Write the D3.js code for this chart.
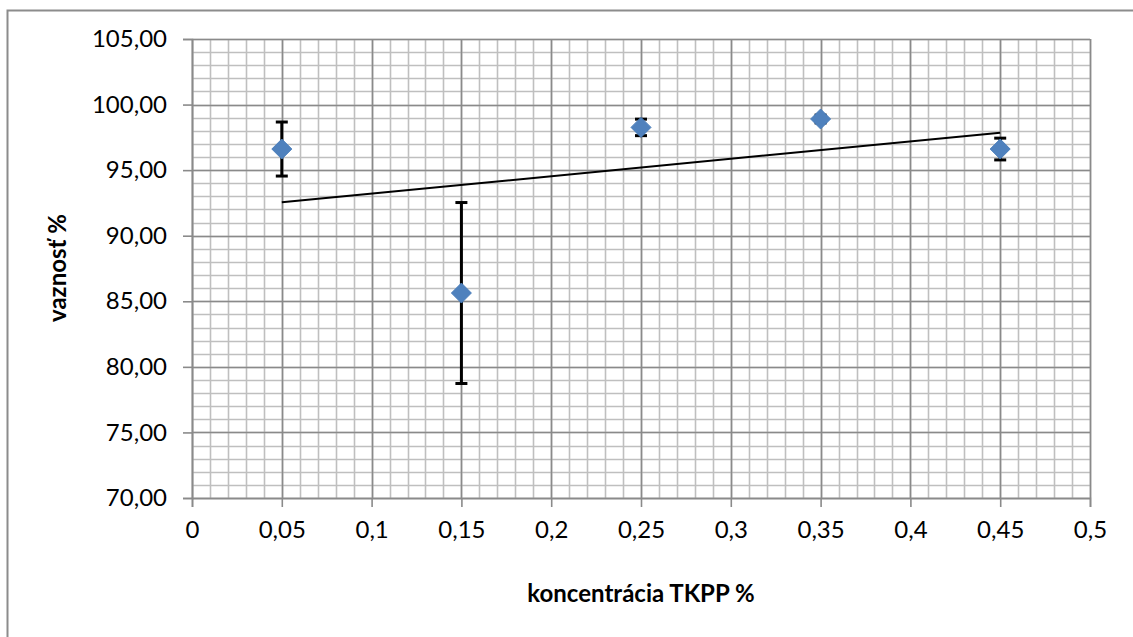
<!DOCTYPE html>
<html>
<head>
<meta charset="utf-8">
<script src="https://cdn.jsdelivr.net/npm/d3@7/dist/d3.min.js"></script>
<style>
  html, body { margin: 0; padding: 0; background: #fff; }
  svg { display: block; }
  text { font-family: Lato, "Open Sans", sans-serif; fill: #000; }
</style>
</head>
<body>
<svg id="chart" width="1133" height="637"></svg>
<script>
// Concentration of TKPP (%) and measured binding (vaznosť, %) with std. deviation
const concentration = [0.05, 0.15, 0.25, 0.35, 0.45];
const binding = [96.61, 85.63, 98.26, 98.90, 96.61];
const deviation = [2.06, 6.90, 0.63, 0.30, 0.83];

const xTicks = [0, 0.05, 0.1, 0.15, 0.2, 0.25, 0.3, 0.35, 0.4, 0.45, 0.5];
const yTicks = [70, 75, 80, 85, 90, 95, 100, 105];

const xTitle = "koncentrácia TKPP %";
const yTitle = "vaznosť %";

const W = 1133, H = 637;
const plot = { left: 192, top: 39, right: 1090, bottom: 498 };

const svg = d3.select("#chart");

// outer frame of the chart object (runs past the right and bottom edges)
svg.append("rect")
  .attr("x", 7.5).attr("y", 10.5)
  .attr("width", W + 20).attr("height", H + 20)
  .attr("fill", "none").attr("stroke", "#8c8c8c").attr("stroke-width", 2);

const x = d3.scaleLinear().domain([0, 0.5]).range([plot.left, plot.right]);
const y = d3.scaleLinear().domain([70, 105]).range([plot.bottom, plot.top]);

const fmtX = d => String(+d.toFixed(2)).replace(".", ",");
const fmtY = d => d.toFixed(2).replace(".", ",");

// minor grid
const g = svg.append("g");
g.selectAll("line.minx").data(d3.range(0, 51).map(i => i / 100))
  .join("line")
  .attr("x1", d => Math.round(x(d)) + 0.5).attr("x2", d => Math.round(x(d)) + 0.5)
  .attr("y1", plot.top).attr("y2", plot.bottom)
  .attr("stroke", "#bfbfbf").attr("stroke-width", 1.6);
g.selectAll("line.miny").data(d3.range(70, 106))
  .join("line")
  .attr("x1", plot.left).attr("x2", plot.right)
  .attr("y1", d => Math.round(y(d)) + 0.5).attr("y2", d => Math.round(y(d)) + 0.5)
  .attr("stroke", "#bfbfbf").attr("stroke-width", 1.6);

// major grid
g.selectAll("line.majx").data(xTicks)
  .join("line")
  .attr("x1", d => Math.round(x(d)) + 0.5).attr("x2", d => Math.round(x(d)) + 0.5)
  .attr("y1", plot.top).attr("y2", plot.bottom)
  .attr("stroke", "#8a8a8a").attr("stroke-width", 1.6);
g.selectAll("line.majy").data(yTicks)
  .join("line")
  .attr("x1", plot.left).attr("x2", plot.right)
  .attr("y1", d => Math.round(y(d)) + 0.5).attr("y2", d => Math.round(y(d)) + 0.5)
  .attr("stroke", "#8a8a8a").attr("stroke-width", 1.6);

// axes
const xAxis = svg.append("g")
  .attr("transform", `translate(0,${plot.bottom})`)
  .call(d3.axisBottom(x).tickValues(xTicks).tickFormat(fmtX).tickSize(9).tickPadding(14));
const yAxis = svg.append("g")
  .attr("transform", `translate(${plot.left},0)`)
  .call(d3.axisLeft(y).tickValues(yTicks).tickFormat(fmtY).tickSize(9).tickPadding(16));
[xAxis, yAxis].forEach(a => {
  a.select(".domain").attr("stroke", "#8a8a8a").attr("stroke-width", 1.6);
  a.selectAll(".tick line").attr("stroke", "#8a8a8a").attr("stroke-width", 1.6);
  a.selectAll(".tick text").attr("font-size", 24).attr("font-family", "Lato, sans-serif").attr("fill", "#000");
});

// linear trend line (least squares) across the measured range
const mx = d3.mean(concentration), my = d3.mean(binding);
const slope = d3.sum(concentration, (c, i) => (c - mx) * (binding[i] - my)) /
              d3.sum(concentration, c => (c - mx) ** 2);
const icpt = my - slope * mx;
const xExt = d3.extent(concentration);
svg.append("line")
  .attr("x1", x(xExt[0])).attr("y1", y(icpt + slope * xExt[0]))
  .attr("x2", x(xExt[1])).attr("y2", y(icpt + slope * xExt[1]))
  .attr("stroke", "#000").attr("stroke-width", 2);

// error bars
const pts = concentration.map((c, i) => ({ c, v: binding[i], e: deviation[i] }));
const eb = svg.append("g").attr("stroke", "#000").attr("stroke-width", 3);
pts.forEach(p => {
  const cx = x(p.c);
  eb.append("line").attr("x1", cx).attr("x2", cx).attr("y1", y(p.v + p.e)).attr("y2", y(p.v - p.e));
  eb.append("line").attr("x1", cx - 6).attr("x2", cx + 6).attr("y1", y(p.v + p.e)).attr("y2", y(p.v + p.e));
  eb.append("line").attr("x1", cx - 6).attr("x2", cx + 6).attr("y1", y(p.v - p.e)).attr("y2", y(p.v - p.e));
});

// diamond markers
const diamond = "M0,-10L10,0L0,10L-10,0Z";
svg.append("g").selectAll("path").data(pts).join("path")
  .attr("d", diamond)
  .attr("transform", p => `translate(${x(p.c)},${y(p.v)})`)
  .attr("fill", "#4F81BD").attr("stroke", "#4a7ebb").attr("stroke-width", 1);

// axis titles
svg.append("text")
  .attr("x", 641).attr("y", 602)
  .attr("text-anchor", "middle").attr("font-size", 24).attr("font-weight", "bold")
  .text(xTitle);
svg.append("text")
  .attr("transform", "translate(66,268) rotate(-90)")
  .attr("text-anchor", "middle").attr("font-size", 24).attr("font-weight", "bold")
  .text(yTitle);
</script>
</body>
</html>
